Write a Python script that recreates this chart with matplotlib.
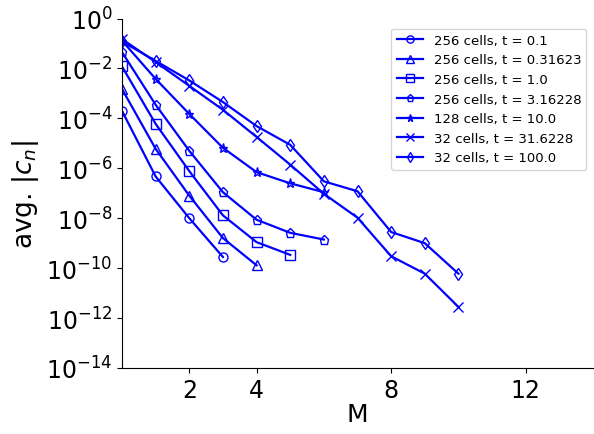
import matplotlib
matplotlib.use("Agg")
import matplotlib.pyplot as plt
import numpy as np

# Average coefficient magnitude vs. truncation order M
labels = [
    "256 cells, t = 0.1",
    "256 cells, t = 0.31623",
    "256 cells, t = 1.0",
    "256 cells, t = 3.16228",
    "128 cells, t = 10.0",
    "32 cells, t = 31.6228",
    "32 cells, t = 100.0",
]
markers = ["o", "^", "s", "p", "*", "x", "d"]

c_t01 = [2e-4, 4.7e-7, 1e-8, 2.8e-10]
c_t03 = [1.5e-3, 6e-6, 8e-8, 1.6e-9, 1.3e-10]
c_t1 = [1.2e-2, 6e-5, 7.7e-7, 1.3e-8, 1.1e-9, 3.4e-10]
c_t3 = [4.5e-2, 3.5e-4, 5e-6, 1.1e-7, 8.7e-9, 2.6e-9, 1.4e-9]
c_t10 = [0.13, 3.8e-3, 1.5e-4, 6.6e-6, 7e-7, 2.5e-7, 1.1e-7]
c_t31 = [0.15, 1.8e-2, 2e-3, 2.2e-4, 1.8e-5, 1.4e-6, 9.5e-8, 1.05e-8,
         3e-10, 6e-11, 2.8e-12]
c_t100 = [0.12, 2e-2, 3.3e-3, 4.5e-4, 4.9e-5, 8.7e-6, 3e-7, 1.2e-7,
          2.8e-9, 1e-9, 6e-11]
series = [c_t01, c_t03, c_t1, c_t3, c_t10, c_t31, c_t100]

fig = plt.figure(figsize=(5.94, 4.35), dpi=100)
ax = fig.add_axes([122 / 594, 1 - 369 / 435, (593 - 122) / 594, (369 - 19.5) / 435])

for vals, lab, mk in zip(series, labels, markers):
    m = np.arange(len(vals))
    ax.semilogy(m, vals, color="blue", marker=mk, markerfacecolor="none",
                markeredgecolor="blue", markersize=6.5, linewidth=1.6, label=lab)

ax.set_xlim(0, 14)
ax.set_ylim(1e-14, 1e0)
ax.set_xticks([2, 4, 8, 12])
ax.set_yticks([10.0 ** k for k in range(-14, 1, 2)])
ax.minorticks_off()
ax.tick_params(labelsize=17)
ax.spines["top"].set_visible(False)
ax.spines["right"].set_visible(False)
ax.set_xlabel("M", fontsize=18, labelpad=0)
ax.set_ylabel(r"avg. $|c_n|$", fontsize=19)
ax.legend(loc="upper right", fontsize=9.5, bbox_to_anchor=(1.0, 0.99),
          markerscale=0.8)

fig.savefig("out.png", dpi=100)
